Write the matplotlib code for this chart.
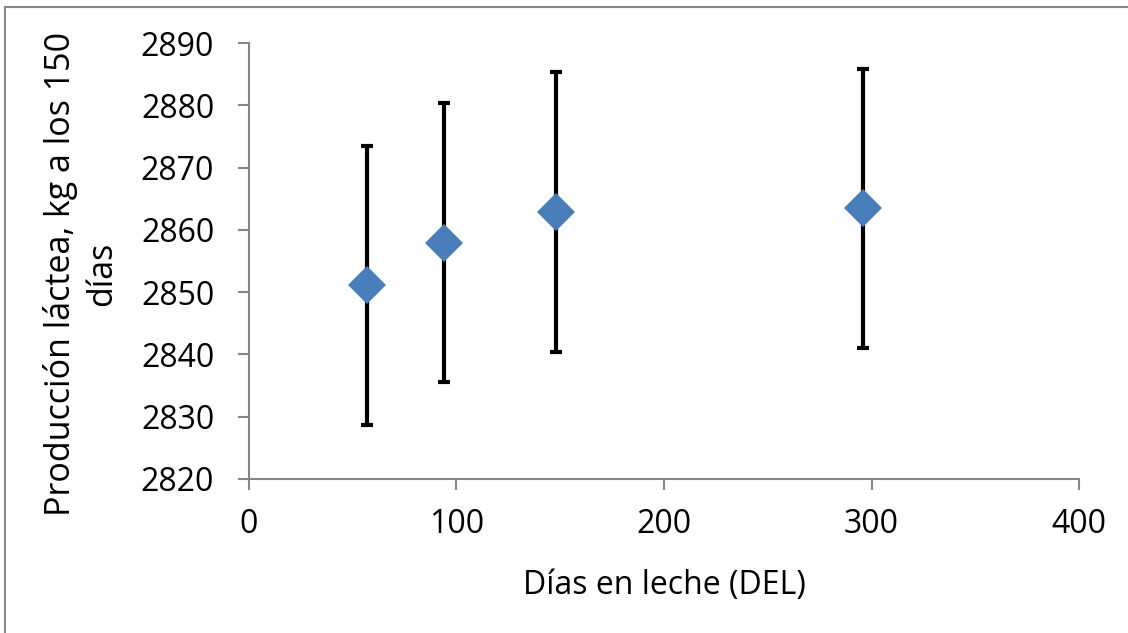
import matplotlib.pyplot as plt
from matplotlib.patches import Rectangle

# valores
dias = [57, 94, 148, 296]
produccion = [2851.1, 2857.9, 2862.9, 2863.5]
error = [22.4, 22.4, 22.5, 22.4]

x_ticks = [0, 100, 200, 300, 400]
y_ticks = [2820, 2830, 2840, 2850, 2860, 2870, 2880, 2890]

plt.rcParams['font.family'] = ['Open Sans', 'DejaVu Sans']

fig = plt.figure(figsize=(11.28, 6.33), dpi=100)
ax = fig.add_axes([0.2207, 0.2433, 0.7359, 0.6887])

# marco exterior del gráfico (solo se ven el borde izquierdo y el superior)
fig.patches.append(Rectangle((0.0044, -0.2), 1.2, 1.1897, transform=fig.transFigure,
                             fill=False, edgecolor="#868686", linewidth=1.5))

ax.errorbar(dias, produccion, yerr=error, fmt="none", ecolor="black",
            elinewidth=3, capsize=4.5, capthick=3, zorder=2)
ax.plot(dias, produccion, linestyle="none", marker="D", markersize=19,
        color="#4A7EBB", markeredgewidth=0, zorder=3)

ax.set_xlim(0, 400)
ax.set_ylim(2820, 2890)
ax.set_xticks(x_ticks)
ax.set_yticks(y_ticks)

for side in ["top", "right"]:
    ax.spines[side].set_visible(False)
for side in ["left", "bottom"]:
    ax.spines[side].set_color("#868686")
    ax.spines[side].set_linewidth(1.5)

ax.tick_params(axis="both", direction="out", length=8, width=1.5, color="#868686",
               labelsize=23)
ax.tick_params(axis="y", pad=17)
ax.tick_params(axis="x", pad=13)

ax.set_xlabel("Días en leche (DEL)", fontsize=23, labelpad=20)
ax.set_ylabel("Producción láctea, kg a los 150\ndías", fontsize=24.5,
              linespacing=1.3)
ax.yaxis.set_label_coords(-0.156, 0.47)

fig.savefig("out.png", dpi=100)
